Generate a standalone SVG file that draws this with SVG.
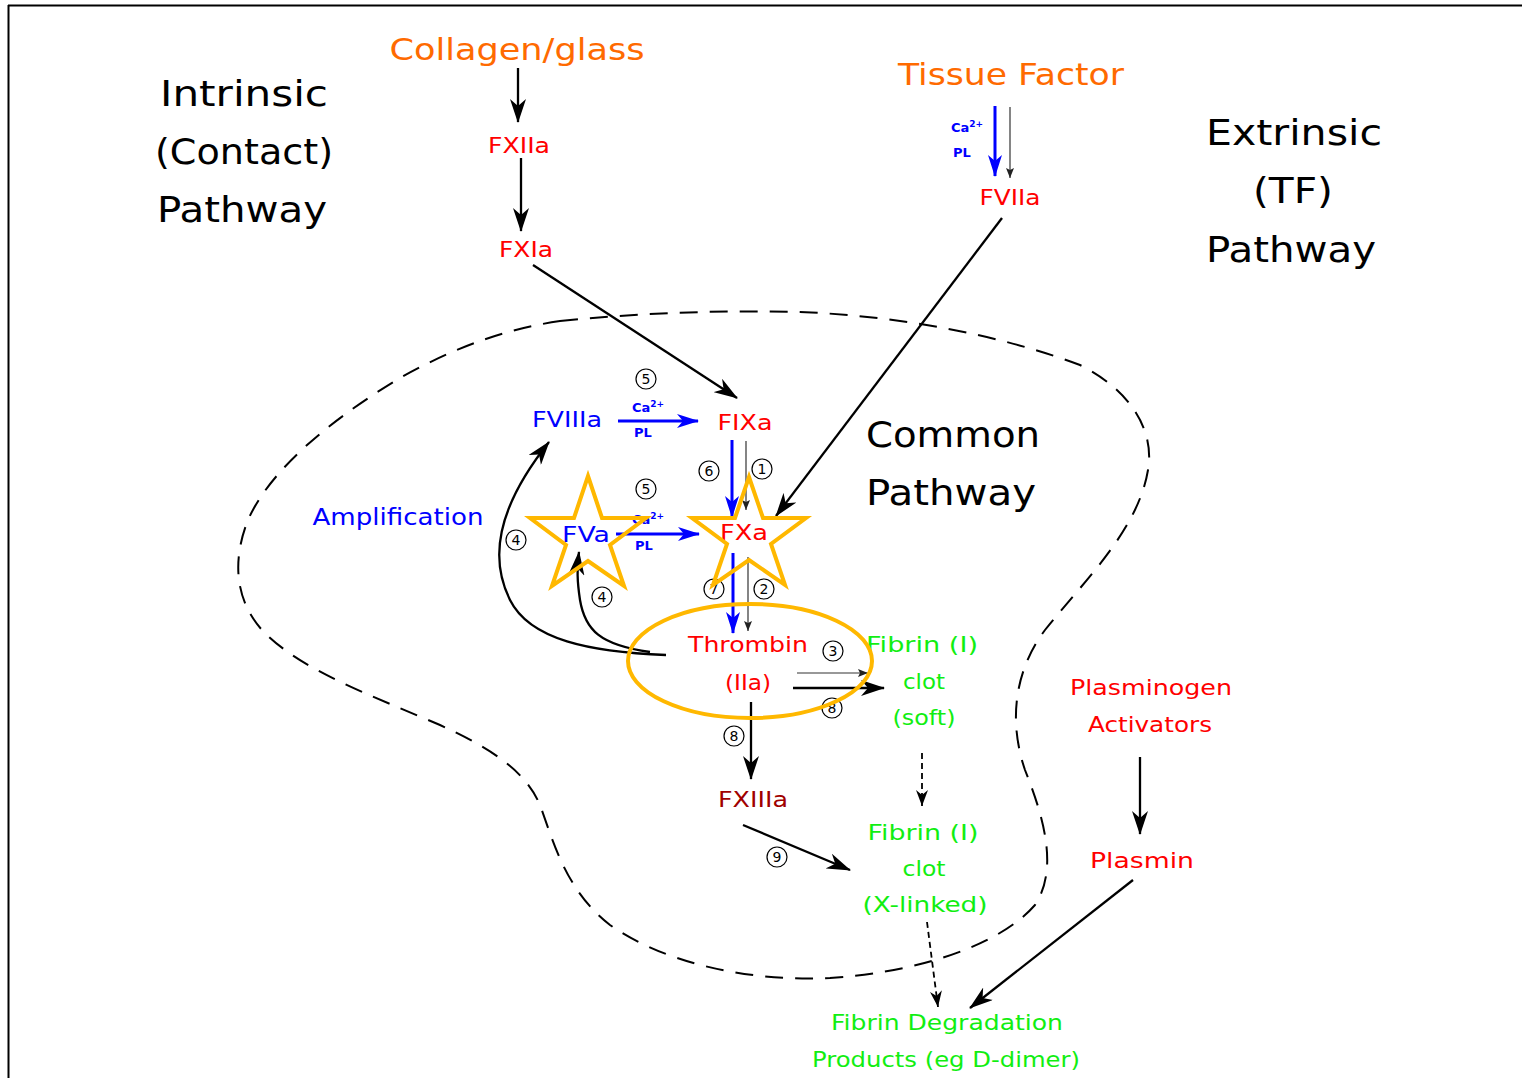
<svg xmlns="http://www.w3.org/2000/svg" width="1522" height="1078" viewBox="0 0 1522 1078">
<style>
text{font-family:"DejaVu Sans","Liberation Sans",sans-serif;text-anchor:middle}
.big{font-size:36px;fill:#000}
.or{font-size:30px;fill:#FF6A00}
.lab{font-size:21px}
.red{fill:#FF0000}
.blue{fill:#0000FF}
.grn{fill:#11EE11}
.dred{fill:#A00000}
.ca{font-size:13px;font-weight:bold;fill:#0000FF;text-anchor:start}
.num{font-size:14px;fill:#000}
.ln{stroke:#000;stroke-width:2.3;fill:none}
.thin{stroke:#333;stroke-width:1.2;fill:none}
.bl{stroke:#0000FF;stroke-width:3;fill:none}
.dash{stroke:#000;stroke-width:2;fill:none;stroke-dasharray:18 12}
.sdash{stroke:#000;stroke-width:1.8;fill:none;stroke-dasharray:6 4}
.gold{stroke:#FFB800;stroke-width:4;fill:none}
.circ{stroke:#000;stroke-width:1.2;fill:none}
</style>
<defs>
<marker id="ab" markerUnits="userSpaceOnUse" markerWidth="24" markerHeight="16" refX="23" refY="8" orient="auto" viewBox="0 0 24 16"><path d="M0,0 L24,8 L0,16 L7,8 z" fill="#000"/></marker>
<marker id="abl" markerUnits="userSpaceOnUse" markerWidth="22" markerHeight="14" refX="21" refY="7" orient="auto" viewBox="0 0 22 14"><path d="M0,0 L22,7 L0,14 L6,7 z" fill="#0000FF"/></marker>
<marker id="at" markerUnits="userSpaceOnUse" markerWidth="10" markerHeight="8" refX="10" refY="4" orient="auto" viewBox="0 0 10 8"><path d="M0,0 L10,4 L0,8 L2,4 z" fill="#222"/></marker>
<marker id="ad" markerUnits="userSpaceOnUse" markerWidth="16" markerHeight="12" refX="16" refY="6" orient="auto" viewBox="0 0 16 12"><path d="M0,0 L16,6 L0,12 L5,6 z" fill="#000"/></marker>
</defs>
<rect width="1522" height="1078" fill="#fff"/>
<g id="frame">
<line x1="8" y1="5.5" x2="1522" y2="5.5" stroke="#000" stroke-width="2"/>
<line x1="8.5" y1="5" x2="8.5" y2="1078" stroke="#000" stroke-width="2"/>
</g>
<g id="region">
<path class="dash" d="M560,321 C640,313 720,310 800,312 C900,316 1000,335 1080,365 C1130,390 1155,430 1148,470 C1138,530 1085,580 1045,630 C1015,670 1008,720 1025,770 C1045,820 1058,870 1035,905 C1000,945 920,972 830,978 C740,982 660,960 610,925 C565,890 553,840 540,805 C525,770 490,748 440,725 C370,695 300,670 262,630 C235,600 232,560 248,520 C270,470 330,420 400,378 C450,350 500,330 560,321 z"/>
</g>
<g id="connectors">
<line class="ln" x1="518" y1="68" x2="518" y2="122" marker-end="url(#ab)"/>
<line class="ln" x1="521" y1="158" x2="521" y2="231" marker-end="url(#ab)"/>
<line class="ln" x1="533" y1="265" x2="737" y2="398" marker-end="url(#ab)"/>
<line class="bl" x1="995" y1="106" x2="995" y2="176" marker-end="url(#abl)"/>
<line class="thin" x1="1010" y1="107" x2="1010" y2="178" marker-end="url(#at)"/>
<line class="ln" x1="1002" y1="218" x2="776" y2="516" marker-end="url(#ab)"/>
<line class="bl" x1="618" y1="421" x2="698" y2="421" marker-end="url(#abl)"/>
<line class="bl" x1="616" y1="534" x2="699" y2="534" marker-end="url(#abl)"/>
<line class="bl" x1="732" y1="440" x2="732" y2="517" marker-end="url(#abl)"/>
<line class="thin" x1="746" y1="441" x2="746" y2="510" marker-end="url(#at)"/>
<line class="bl" x1="733" y1="553" x2="733" y2="633" marker-end="url(#abl)"/>
<line class="thin" x1="748" y1="557" x2="748" y2="631" marker-end="url(#at)"/>
<path class="ln" d="M666,655 C590,652 530,640 510,600 C490,560 495,510 549,442" marker-end="url(#ab)"/>
<path class="ln" d="M650,652 C600,645 585,630 580,600 C577,580 577,570 579,552" marker-end="url(#ab)"/>
<line class="thin" x1="797" y1="673" x2="868" y2="673" marker-end="url(#at)"/>
<line class="ln" x1="793" y1="688" x2="884" y2="688" marker-end="url(#ab)"/>
<line class="ln" x1="751" y1="702" x2="751" y2="779" marker-end="url(#ab)"/>
<line class="ln" x1="743" y1="825" x2="850" y2="870" marker-end="url(#ab)"/>
<line class="sdash" x1="922" y1="753" x2="922" y2="806" marker-end="url(#ad)"/>
<line class="sdash" x1="927" y1="922" x2="938" y2="1007" marker-end="url(#ad)"/>
<line class="ln" x1="1140" y1="757" x2="1140" y2="834" marker-end="url(#ab)"/>
<line class="ln" x1="1133" y1="880" x2="970" y2="1008" marker-end="url(#ab)"/>
</g>
<g id="labels">
<text class="big" x="244" y="106" textLength="168" lengthAdjust="spacingAndGlyphs">Intrinsic</text>
<text class="big" x="244" y="164" textLength="178" lengthAdjust="spacingAndGlyphs">(Contact)</text>
<text class="big" x="242" y="222" textLength="170" lengthAdjust="spacingAndGlyphs">Pathway</text>
<text class="big" x="1294" y="145" textLength="176" lengthAdjust="spacingAndGlyphs">Extrinsic</text>
<text class="big" x="1293" y="203" textLength="80" lengthAdjust="spacingAndGlyphs">(TF)</text>
<text class="big" x="1291" y="262" textLength="170" lengthAdjust="spacingAndGlyphs">Pathway</text>
<text class="big" x="953" y="447" textLength="174" lengthAdjust="spacingAndGlyphs">Common</text>
<text class="big" x="951" y="505" textLength="170" lengthAdjust="spacingAndGlyphs">Pathway</text>
</g>
<g id="collagen"><text class="or" x="517" y="60" textLength="255" lengthAdjust="spacingAndGlyphs">Collagen/glass</text></g>
<g id="tissue-factor"><text class="or" x="1011" y="85" textLength="226" lengthAdjust="spacingAndGlyphs">Tissue Factor</text></g>
<g id="fxiia"><text class="lab red" x="519" y="153" textLength="62" lengthAdjust="spacingAndGlyphs">FXIIa</text></g>
<g id="fxia"><text class="lab red" x="526" y="257" textLength="54" lengthAdjust="spacingAndGlyphs">FXIa</text></g>
<g id="fviia"><text class="lab red" x="1010" y="205" textLength="61" lengthAdjust="spacingAndGlyphs">FVIIa</text></g>
<g id="fviiia"><text class="lab blue" x="567" y="427" textLength="70" lengthAdjust="spacingAndGlyphs">FVIIIa</text></g>
<g id="fixa"><text class="lab red" x="745" y="430" textLength="55" lengthAdjust="spacingAndGlyphs">FIXa</text></g>
<g id="fva"><text class="lab blue" x="586" y="542" textLength="48" lengthAdjust="spacingAndGlyphs">FVa</text></g>
<g id="fxa"><text class="lab red" x="744" y="540" textLength="48" lengthAdjust="spacingAndGlyphs">FXa</text></g>
<g id="amplification"><text class="blue" style="font-size:23px" x="398" y="525" textLength="171" lengthAdjust="spacingAndGlyphs">Amplification</text></g>
<g id="thrombin">
<text class="lab red" x="748" y="652" textLength="120" lengthAdjust="spacingAndGlyphs">Thrombin</text>
<text class="lab red" x="748" y="690" textLength="46" lengthAdjust="spacingAndGlyphs">(IIa)</text>
</g>
<g id="fibrin-soft">
<text class="lab grn" x="922" y="652" textLength="112" lengthAdjust="spacingAndGlyphs">Fibrin (I)</text>
<text class="lab grn" x="924" y="689" textLength="42" lengthAdjust="spacingAndGlyphs">clot</text>
<text class="lab grn" x="924" y="725" textLength="63" lengthAdjust="spacingAndGlyphs">(soft)</text>
</g>
<g id="fxiiia"><text class="lab dred" x="753" y="807" textLength="70" lengthAdjust="spacingAndGlyphs">FXIIIa</text></g>
<g id="fibrin-xlinked">
<text class="lab grn" x="923" y="840" textLength="111" lengthAdjust="spacingAndGlyphs">Fibrin (I)</text>
<text class="lab grn" x="924" y="876" textLength="43" lengthAdjust="spacingAndGlyphs">clot</text>
<text class="lab grn" x="925" y="912" textLength="125" lengthAdjust="spacingAndGlyphs">(X-linked)</text>
</g>
<g id="plasminogen">
<text class="lab red" x="1151" y="695" textLength="162" lengthAdjust="spacingAndGlyphs">Plasminogen</text>
<text class="lab red" x="1150" y="732" textLength="124" lengthAdjust="spacingAndGlyphs">Activators</text>
</g>
<g id="plasmin"><text class="lab red" x="1142" y="868" textLength="104" lengthAdjust="spacingAndGlyphs">Plasmin</text></g>
<g id="fdp">
<text class="lab grn" x="947" y="1030" textLength="232" lengthAdjust="spacingAndGlyphs">Fibrin Degradation</text>
<text class="lab grn" x="946" y="1067" textLength="268" lengthAdjust="spacingAndGlyphs">Products (eg D-dimer)</text>
</g>
<g id="cofactors">
<text class="ca" x="632" y="412">Ca<tspan dy="-5" font-size="9">2+</tspan></text>
<text class="ca" x="634" y="437">PL</text>
<text class="ca" x="632" y="524">Ca<tspan dy="-5" font-size="9">2+</tspan></text>
<text class="ca" x="635" y="550">PL</text>
<text class="ca" x="951" y="132">Ca<tspan dy="-5" font-size="9">2+</tspan></text>
<text class="ca" x="953" y="157">PL</text>
</g>
<g id="steps">
<circle class="circ" cx="646" cy="379" r="10"/><text class="num" x="646" y="384">5</text>
<circle class="circ" cx="646" cy="489" r="10"/><text class="num" x="646" y="494">5</text>
<circle class="circ" cx="709" cy="471" r="10"/><text class="num" x="709" y="476">6</text>
<circle class="circ" cx="762" cy="469" r="10"/><text class="num" x="762" y="474">1</text>
<circle class="circ" cx="516" cy="540" r="10"/><text class="num" x="516" y="545">4</text>
<circle class="circ" cx="602" cy="597" r="10"/><text class="num" x="602" y="602">4</text>
<circle class="circ" cx="714" cy="589" r="10"/><text class="num" x="714" y="594">7</text>
<circle class="circ" cx="764" cy="589" r="10"/><text class="num" x="764" y="594">2</text>
<circle class="circ" cx="833" cy="651" r="10"/><text class="num" x="833" y="656">3</text>
<circle class="circ" cx="832" cy="708" r="10"/><text class="num" x="832" y="713">8</text>
<circle class="circ" cx="734" cy="736" r="10"/><text class="num" x="734" y="741">8</text>
<circle class="circ" cx="777" cy="857" r="10"/><text class="num" x="777" y="862">9</text>
</g>
<g id="highlights">
<polygon class="gold" points="588,476 602,518 646,518 610,545 624,586 588,561 552,586 566,545 530,518 574,518"/>
<polygon class="gold" points="749,477 763,518 806,518 771,544 785,585 749,560 713,585 727,544 692,518 735,518"/>
<ellipse class="gold" cx="750" cy="661" rx="122" ry="57" stroke-width="3.5"/>
</g>
</svg>
